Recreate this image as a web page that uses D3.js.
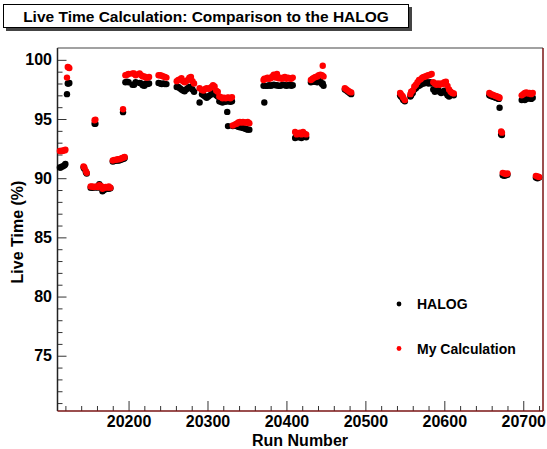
<!doctype html>
<meta charset="utf-8">
<script src="https://d3js.org/d3.v7.min.js"></script>
<style>
  body { margin: 0; background: #fff; }
  text { font-family: "Liberation Sans", Arial, sans-serif; font-weight: bold; }
</style>
<body>
<svg width="547" height="449"></svg>
<script>
// ---- data ----
var runs = [
  20113, 20114, 20116, 20117, 20119, 20120,
  20122, 20123, 20124, 20125,
  20143, 20144, 20146, 20147,
  20157, 20158,
  20152, 20154, 20156, 20159, 20161, 20163, 20165, 20167, 20169, 20171, 20173, 20175, 20177,
  20180, 20182, 20184, 20186, 20188, 20190, 20192, 20194, 20195,
  20193,
  20196, 20198, 20200, 20205, 20207, 20209, 20214, 20216, 20218, 20220, 20222, 20224, 20226,
  20238, 20240, 20242, 20244, 20246, 20248,
  20261, 20263, 20265, 20267, 20269, 20271, 20273, 20275, 20277, 20279, 20281, 20283, 20290,
  20293, 20295, 20297, 20299, 20301, 20303, 20305, 20307, 20309, 20311, 20313,
  20315, 20317, 20319, 20321, 20323, 20325, 20326, 20327, 20329, 20331,
  20332, 20335, 20337, 20339, 20341, 20343, 20345, 20347, 20349, 20351, 20353,
  20371, 20372, 20374, 20376, 20378, 20380, 20382, 20384, 20386, 20388, 20390, 20392, 20394, 20396, 20398, 20400, 20402, 20404, 20406, 20408,
  20411, 20413, 20415, 20417, 20419, 20421, 20423, 20425,
  20431, 20433, 20435, 20437, 20439, 20441, 20443, 20445, 20446, 20447,
  20474, 20476, 20478, 20480, 20482,
  20544, 20545, 20547, 20548, 20550,
  20557, 20558, 20560, 20562, 20564, 20566, 20568, 20570, 20572, 20574, 20576, 20578, 20580, 20582, 20584,
  20586, 20588, 20590, 20592, 20594, 20596, 20598, 20600, 20602, 20604, 20606, 20608, 20610, 20612,
  20657, 20659, 20661, 20663, 20665, 20667, 20669, 20670,
  20672, 20673,
  20674, 20676, 20678, 20680,
  20698, 20700, 20702, 20704, 20706, 20708, 20710, 20712,
  20716, 20718, 20720
];
var halog = [
  90.9, 90.9, 91.0, 91.0, 91.1, 91.2,
  97.1, 98.0, 98.0, 98.05,
  90.9, 90.8, 90.5, 90.4,
  94.6, 94.6,
  89.2, 89.2, 89.2, 89.25, 89.2, 89.5, 89.3, 88.9, 89.0, 89.1, 89.1, 89.1, 89.15,
  91.4, 91.45, 91.5, 91.5, 91.5, 91.55, 91.6, 91.65, 91.7,
  95.58,
  98.1, 98.15, 98.1, 97.9, 97.9, 98.1, 98.05, 98.0, 97.85, 97.8, 98.0, 97.95, 98.0,
  98.05, 98.0, 97.95, 98.0, 97.95, 97.95,
  97.7, 97.7, 97.6, 97.5, 97.4, 97.35, 97.5, 97.6, 97.7, 97.6, 97.5, 97.3, 96.4,
  97.1, 97.0, 96.9, 96.8, 96.9, 97.0, 97.1, 97.2, 97.2, 97.0, 96.9,
  96.5, 96.45, 96.4, 96.5, 96.45, 95.6, 94.4, 96.5, 96.45, 96.5,
  94.4, 94.45, 94.4, 94.35, 94.3, 94.3, 94.25, 94.2, 94.15, 94.1, 94.1,
  97.8, 96.4, 97.8, 97.8, 97.85, 97.8, 97.85, 97.9, 97.85, 97.85, 97.8, 97.8, 97.85, 97.9, 97.85, 97.8, 97.85, 97.9, 97.8, 97.85,
  93.4, 93.5, 93.45, 93.5, 93.4, 93.55, 93.5, 93.45,
  98.1, 98.2, 98.15, 98.2, 98.1, 98.15, 98.2, 97.95, 98.0, 97.8,
  97.5, 97.4, 97.3, 97.2, 97.1,
  97.0, 96.9, 96.75, 96.6, 96.5,
  96.9, 97.0, 97.2, 97.5, 97.6, 97.75, 97.8, 97.9, 98.0, 98.0, 98.05, 98.1, 98.0, 98.1, 98.0,
  97.5, 97.3, 97.4, 97.5, 97.3, 97.2, 97.3, 97.4, 97.2, 97.0, 96.9, 97.0, 97.05, 97.0,
  97.0, 96.95, 96.9, 96.85, 96.8, 96.75, 96.7, 95.95,
  93.7, 93.65,
  90.25, 90.2, 90.25, 90.3,
  96.6, 96.7, 96.6, 96.7, 96.75, 96.8, 96.7, 96.8,
  90.05, 90.0, 90.05
];
var mycalc = [
  92.3, 92.3, 92.3, 92.35, 92.35, 92.4,
  98.5, 99.4, 99.35, 99.3,
  91.0, 90.9, 90.6, 90.45,
  94.9, 94.95,
  89.3, 89.3, 89.25, 89.3, 89.25, 89.4, 89.35, 89.1, 89.2, 89.25, 89.2, 89.3, 89.2,
  91.5, 91.55, 91.55, 91.6, 91.6, 91.65, 91.7, 91.75, 91.8,
  95.83,
  98.7, 98.75, 98.8, 98.85, 98.85, 98.7, 98.85, 98.7, 98.6, 98.6, 98.5, 98.5, 98.55,
  98.7, 98.7, 98.65, 98.6, 98.55, 98.5,
  98.2, 98.3, 98.35, 98.45, 98.2, 98.1, 98.2, 98.3, 98.5, 98.55, 98.2, 98.0, 97.6,
  97.45, 97.4, 97.55, 97.6, 97.55, 97.6, 97.7, 97.85, 97.75, 97.4, 97.3,
  96.9, 96.85, 96.75, 96.8, 96.75, 96.8, 96.8, 96.8, 96.75, 96.85,
  94.45, 94.55, 94.6, 94.7, 94.75, 94.7, 94.75, 94.7, 94.7, 94.75, 94.65,
  98.3, 98.4, 98.4, 98.5, 98.4, 98.45, 98.6, 98.75, 98.5, 98.8, 98.45, 98.5, 98.4, 98.5, 98.55, 98.4, 98.5, 98.45, 98.4, 98.5,
  93.9, 93.7, 93.8, 93.85, 93.7, 93.9, 93.75, 93.7,
  98.3, 98.4, 98.5, 98.55, 98.6, 98.7, 98.75, 98.7, 99.5, 98.6,
  97.6, 97.5, 97.4, 97.3, 97.25,
  97.2, 97.1, 96.95, 96.8, 96.6,
  97.1, 97.3, 97.4, 97.75, 97.9, 98.1, 98.3, 98.35, 98.5, 98.55, 98.6, 98.65, 98.7, 98.75, 98.8,
  98.1, 98.0, 97.9, 98.0, 97.9, 98.0, 97.95, 98.1, 98.15, 97.8, 97.5, 97.3, 97.2, 97.15,
  97.2, 97.1, 97.05, 97.0, 96.95, 96.9, 96.85, 96.8,
  93.95, 93.85,
  90.45, 90.4, 90.35, 90.4,
  97.0, 97.1, 97.2, 97.25, 97.15, 97.2, 97.1, 97.2,
  90.2, 90.15, 90.1
];
var xMajorTicks = [20200, 20300, 20400, 20500, 20600, 20700];
var yMajorTicks = [75, 80, 85, 90, 95, 100];
var legendLabels = ["HALOG", "My Calculation"];
var seriesColors = ["#000000", "#ff0000"];

var svg = d3.select("svg");
var plotLeft = 57.5, plotRight = 543, plotTop = 48, plotBottom = 411;

var x = d3.scaleLinear().domain([20110, 20725]).range([plotLeft, plotRight]);
var y = d3.scaleLinear().domain([70.33, 101.0]).range([plotBottom, plotTop]);

// ---- title box ----
svg.append("rect").attr("x", 6).attr("y", 7).attr("width", 406).attr("height", 24).attr("fill", "#444");
svg.append("rect").attr("x", 3.5).attr("y", 4.5).attr("width", 405).attr("height", 23)
  .attr("fill", "#fff").attr("stroke", "#000").attr("stroke-width", 1);
svg.append("text")
  .attr("x", 206).attr("y", 21.5)
  .attr("text-anchor", "middle")
  .attr("font-size", "15.5px")
  .text("Live Time Calculation: Comparison to the HALOG");

// ---- axes ----
var xMinor = d3.range(20120, 20721, 20).filter(function (d) { return d % 100 != 0; });
var yMinor = d3.range(71, 101, 1).filter(function (d) { return d % 5 != 0; });

var gx = svg.append("g").attr("transform", "translate(0," + plotBottom + ")");
gx.append("g").call(d3.axisBottom(x).tickValues(xMinor).tickSize(-5).tickFormat(""));
gx.append("g").call(d3.axisBottom(x).tickValues(xMajorTicks).tickSize(-10).tickPadding(5).tickFormat(d3.format("d")));
gx.selectAll(".domain").remove();
gx.selectAll("text").attr("font-size", "16px").attr("fill", "#000");
gx.selectAll("line").attr("stroke", "#333");

var gy = svg.append("g").attr("transform", "translate(" + plotLeft + ",0)");
gy.append("g").call(d3.axisLeft(y).tickValues(yMinor).tickSize(-5).tickFormat(""));
gy.append("g").call(d3.axisLeft(y).tickValues(yMajorTicks).tickSize(-9).tickPadding(5.5).tickFormat(d3.format("d")));
gy.selectAll(".domain").remove();
gy.selectAll("text").attr("font-size", "16px").attr("fill", "#000");
gy.selectAll("line").attr("stroke", "#333");

// x/y titles
svg.append("text")
  .attr("x", 300).attr("y", 446)
  .attr("text-anchor", "middle")
  .attr("font-size", "16px")
  .text("Run Number");
svg.append("text")
  .attr("transform", "translate(23,232) rotate(-90)")
  .attr("text-anchor", "middle")
  .attr("font-size", "16px")
  .text("Live Time (%)");

// ---- frame ----
svg.append("line").attr("x1", plotLeft).attr("x2", plotLeft).attr("y1", plotTop).attr("y2", plotBottom)
  .attr("stroke", "#222").attr("stroke-width", 1.5);
svg.append("line").attr("x1", plotLeft).attr("x2", plotRight).attr("y1", plotTop).attr("y2", plotTop)
  .attr("stroke", "#444").attr("stroke-width", 1.2);

// ---- points ----
var pts = runs.map(function (r, i) { return { run: r, h: halog[i], m: mycalc[i] }; });

svg.append("g").selectAll("circle.h")
  .data(pts).enter().append("circle")
  .attr("class", "h")
  .attr("cx", function (d) { return x(d.run); })
  .attr("cy", function (d) { return y(d.h); })
  .attr("r", 3.2)
  .attr("fill", seriesColors[0]);

svg.append("g").selectAll("circle.m")
  .data(pts).enter().append("circle")
  .attr("class", "m")
  .attr("cx", function (d) { return x(d.run); })
  .attr("cy", function (d) { return y(d.m); })
  .attr("r", 3.2)
  .attr("fill", seriesColors[1]);

svg.append("line").attr("x1", plotLeft).attr("x2", plotRight).attr("y1", plotBottom).attr("y2", plotBottom)
  .attr("stroke", "#7a1414").attr("stroke-width", 1.5);
svg.append("line").attr("x1", plotRight).attr("x2", plotRight).attr("y1", plotTop).attr("y2", plotBottom)
  .attr("stroke", "#7a1414").attr("stroke-width", 1.5);

// ---- legend ----
var lg = svg.append("g");
legendLabels.forEach(function (lab, i) {
  var yy = 304 + i * 44.5;
  lg.append("circle").attr("cx", 399).attr("cy", yy).attr("r", 2.4).attr("fill", seriesColors[i]);
  lg.append("text").attr("x", 417).attr("y", yy + 5).attr("font-size", "14px").text(lab);
});
</script>
</body>
